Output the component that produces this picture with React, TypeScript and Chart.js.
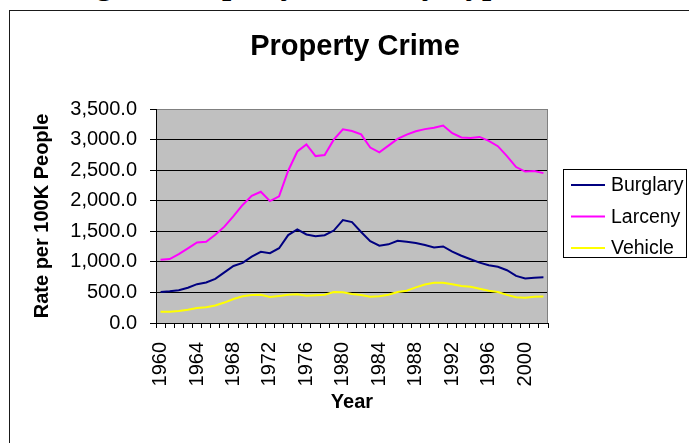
import React, { useEffect, useRef } from 'react';
import { Chart, registerables } from 'chart.js';

Chart.register(...registerables);

const years = [
  '1960', '1961', '1962', '1963', '1964', '1965', '1966', '1967', '1968', '1969',
  '1970', '1971', '1972', '1973', '1974', '1975', '1976', '1977', '1978', '1979',
  '1980', '1981', '1982', '1983', '1984', '1985', '1986', '1987', '1988', '1989',
  '1990', '1991', '1992', '1993', '1994', '1995', '1996', '1997', '1998', '1999',
  '2000', '2001', '2002',
];

const burglary = [
  509, 519, 535, 576, 635, 663, 721, 827, 932, 984,
  1085, 1164, 1141, 1223, 1438, 1532, 1448, 1420, 1435, 1512,
  1684, 1650, 1489, 1338, 1264, 1287, 1345, 1330, 1309, 1276,
  1236, 1252, 1168, 1100, 1042, 987, 945, 919, 863, 770,
  729, 742, 747,
];

const larceny = [
  1035, 1045, 1125, 1219, 1316, 1329, 1443, 1576, 1747, 1931,
  2079, 2146, 1994, 2072, 2490, 2805, 2921, 2730, 2747, 2999,
  3167, 3140, 3085, 2869, 2791, 2901, 3010, 3081, 3135, 3171,
  3195, 3229, 3104, 3034, 3027, 3043, 2980, 2892, 2730, 2551,
  2477, 2486, 2451,
];

const vehicle = [
  183, 184, 197, 217, 247, 257, 287, 334, 393, 436,
  457, 460, 426, 443, 462, 469, 446, 452, 461, 506,
  502, 475, 459, 431, 438, 462, 508, 529, 583, 630,
  658, 659, 632, 606, 591, 560, 526, 506, 460, 423,
  412, 431, 433,
];

const xTickLabels = ['1960', '1964', '1968', '1972', '1976', '1980', '1984', '1988', '1992', '1996', '2000'];
const yTicks = [0, 500, 1000, 1500, 2000, 2500, 3000, 3500];
const seriesNames = ['Burglary', 'Larceny', 'Vehicle'];
const seriesColors = ['#000080', '#FF00FF', '#FFFF00'];

const SANS = '"Liberation Sans", Arial, sans-serif';

export default function App() {
  const ref = useRef<HTMLCanvasElement>(null);

  useEffect(() => {
    if (!ref.current) return;

    const plotBg = {
      id: 'plotBg',
      beforeDraw(chart: any) {
        const { ctx, chartArea: a } = chart;
        ctx.save();
        ctx.fillStyle = '#C0C0C0';
        ctx.fillRect(a.left, a.top, a.right - a.left, a.bottom - a.top);
        ctx.restore();
      },
      beforeDatasetsDraw(chart: any) {
        const { ctx, chartArea: a } = chart;
        ctx.save();
        ctx.strokeStyle = '#808080';
        ctx.lineWidth = 1;
        ctx.beginPath();
        ctx.moveTo(Math.round(a.right) - 0.5, a.top);
        ctx.lineTo(Math.round(a.right) - 0.5, a.bottom);
        ctx.stroke();
        ctx.restore();
      },
      afterDraw(chart: any) {
        const { ctx } = chart;
        ctx.save();
        // Chart title
        ctx.fillStyle = '#000';
        ctx.font = `bold 29px ${SANS}`;
        ctx.textAlign = 'center';
        ctx.textBaseline = 'alphabetic';
        ctx.fillText('Property Crime', 355, 55);

        // Legend
        ctx.strokeStyle = '#000';
        ctx.lineWidth = 1;
        ctx.strokeRect(563.5, 169.5, 123, 88);
        const rows = [185, 216.5, 248];
        ctx.font = `19.5px ${SANS}`;
        ctx.textAlign = 'left';
        ctx.textBaseline = 'middle';
        chart.data.datasets.forEach((ds: any, i: number) => {
          const y = rows[i];
          ctx.strokeStyle = ds.borderColor;
          ctx.lineWidth = 2;
          ctx.beginPath();
          ctx.moveTo(571, y);
          ctx.lineTo(605, y);
          ctx.stroke();
          ctx.fillStyle = '#000';
          ctx.fillText(ds.label, 611, y + 1);
        });
        ctx.restore();
      },
    };

    const chart = new Chart(ref.current, {
      type: 'line',
      data: {
        labels: years,
        datasets: [burglary, larceny, vehicle].map((d, i) => ({
          label: seriesNames[i],
          data: d,
          borderColor: seriesColors[i],
          backgroundColor: seriesColors[i],
          borderWidth: 2,
          pointRadius: 0,
          tension: 0,
          fill: false,
        })),
      },
      options: {
        responsive: false,
        animation: false,
        devicePixelRatio: 1,
        font: { family: SANS },
        layout: { padding: { left: 10, right: 141, top: 109, bottom: 10 } },
        plugins: {
          legend: { display: false },
          tooltip: { enabled: false },
          title: { display: false },
        },
        scales: {
          x: {
            type: 'category',
            offset: true,
            grid: { offset: true, drawOnChartArea: false, drawTicks: true, tickLength: 5, color: '#000' },
            border: { color: '#000', width: 1 },
            ticks: {
              autoSkip: false,
              maxRotation: 90,
              minRotation: 90,
              padding: 14,
              color: '#000',
              font: { family: SANS, size: 20 },
              callback: (_v: any, i: number) => (xTickLabels.includes(years[i]) ? years[i] : ''),
            },
            title: {
              display: true,
              text: 'Year',
              color: '#000',
              font: { family: SANS, size: 20, weight: 'bold' },
              padding: { top: 0, bottom: 19 },
            },
            afterFit: (s: any) => {
              s.height = 110;
            },
          },
          y: {
            min: 0,
            max: 3500,
            afterBuildTicks: (s: any) => {
              s.ticks = yTicks.map((v) => ({ value: v }));
            },
            ticks: {
              padding: 13,
              color: '#000',
              font: { family: SANS, size: 20 },
              callback: (v: any) =>
                Number(v).toLocaleString('en-US', { minimumFractionDigits: 1, maximumFractionDigits: 1 }),
            },
            grid: {
              color: (c: any) => (c.tick && c.tick.value === 3500 ? '#808080' : '#000'),
              tickColor: '#000',
              tickLength: 6,
              drawTicks: true,
            },
            border: { color: '#000', width: 1 },
            title: {
              display: true,
              text: 'Rate per 100K People',
              color: '#000',
              font: { family: SANS, size: 20, weight: 'bold' },
              padding: { top: 20, bottom: 0 },
            },
            afterFit: (s: any) => {
              s.width = 146;
            },
          },
        },
      } as any,
      plugins: [plotBg],
    });

    return () => chart.destroy();
  }, []);

  return (
    <div
      style={{
        position: 'fixed',
        left: 0,
        top: 0,
        width: 689,
        height: 443,
        overflow: 'hidden',
        background: '#fff',
      }}
    >
      <div
        style={{
          position: 'absolute',
          left: 19,
          top: -33,
          font: 'bold 33px "Liberation Serif", "Times New Roman", serif',
          lineHeight: '33px',
          whiteSpace: 'nowrap',
          color: '#000',
        }}
      >
        Change in Property Crime by Type
      </div>
      <div
        style={{
          position: 'absolute',
          left: 9,
          top: 10,
          width: 800,
          height: 600,
          border: '1px solid #1a1a1a',
          boxSizing: 'border-box',
        }}
      />
      <canvas
        ref={ref}
        width={689}
        height={443}
        style={{ position: 'absolute', left: 0, top: 0, display: 'block' }}
      />
    </div>
  );
}
